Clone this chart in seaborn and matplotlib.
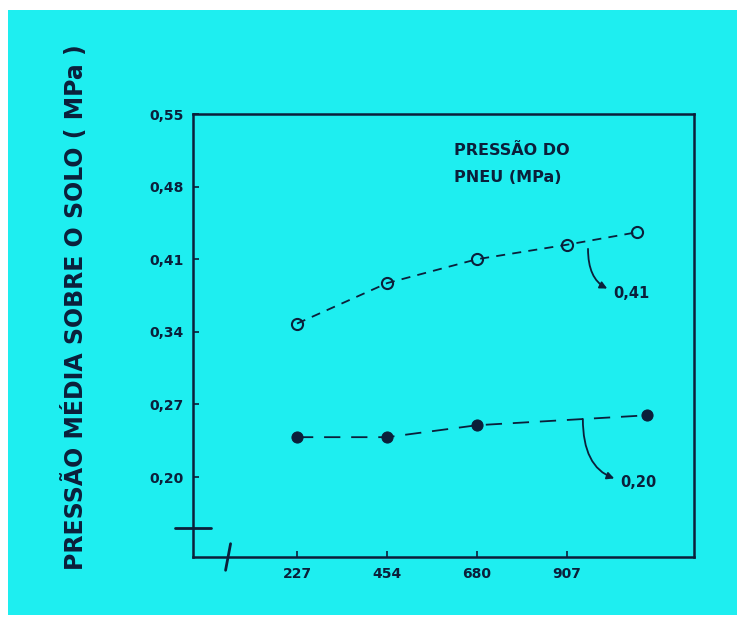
import matplotlib
matplotlib.use('Agg')
import matplotlib.pyplot as plt
import matplotlib.patches as patches
import seaborn as sns
import pandas as pd

# data
carga_aberto = [227, 454, 680, 907, 1083]
pressao_041 = [0.348, 0.387, 0.410, 0.424, 0.436]
carga_cheio = [227, 454, 680, 1109]
pressao_020 = [0.2385, 0.2385, 0.250, 0.2596]
yticks = [0.20, 0.27, 0.34, 0.41, 0.48, 0.55]
ytick_labels = ['0,20', '0,27', '0,34', '0,41', '0,48', '0,55']
xticks = [227, 454, 680, 907]
xtick_labels = ['227', '454', '680', '907']

# colours
ciano = '#1eeef0'
tinta = '#0b1f3a'

sns.set_style('ticks')
plt.rcParams['font.family'] = ['DejaVu Sans']

fig = plt.figure(figsize=(7.46, 6.27), dpi=100, facecolor='white')
# cyan page inside a thin white border
fig.patches.append(patches.Rectangle((8/746, 1-615/627), 729/746, 605/627,
                                     transform=fig.transFigure, facecolor=ciano,
                                     edgecolor='none', zorder=-1))

ax = fig.add_axes([193/746, 1-557/627, 501/746, 443/627])
ax.set_facecolor(ciano)

df1 = pd.DataFrame({'carga': carga_aberto, 'pressao': pressao_041})
df2 = pd.DataFrame({'carga': carga_cheio, 'pressao': pressao_020})

sns.lineplot(data=df1, x='carga', y='pressao', ax=ax, color=tinta, linewidth=1.3,
             linestyle=(0, (5, 4)), marker='o', markersize=8,
             markerfacecolor='none', markeredgecolor=tinta, markeredgewidth=1.5)
sns.lineplot(data=df2, x='carga', y='pressao', ax=ax, color=tinta, linewidth=1.3,
             linestyle=(0, (9, 6)), marker='o', markersize=8,
             markerfacecolor=tinta, markeredgecolor=tinta)

ax.set_xlim(-35, 1227)
ax.set_ylim(0.123, 0.55)
ax.set_yticks(yticks)
ax.set_yticklabels(ytick_labels, fontsize=10, fontweight='bold', color=tinta)
ax.set_xticks(xticks)
ax.set_xticklabels(xtick_labels, fontsize=10, fontweight='bold', color=tinta)
ax.tick_params(direction='in', length=4, width=1.2, color=tinta, pad=7)
ax.set_xlabel('')
ax.set_ylabel('')
for s in ax.spines.values():
    s.set_color(tinta)
    s.set_linewidth(1.8)

# axis break marks
ax.plot([-0.035, 0.035], [0.065, 0.065], transform=ax.transAxes, color=tinta,
        lw=2, clip_on=False)
ax.plot([0.065, 0.075], [-0.03, 0.03], transform=ax.transAxes, color=tinta,
        lw=2, clip_on=False)

# legend title and curve labels
ax.text(0.52, 0.935, 'PRESSÃO DO\nPNEU (MPa)', transform=ax.transAxes,
        fontsize=11.5, fontweight='bold', color=tinta, va='top', ha='left',
        linespacing=2.0)
ax.annotate('0,41', xy=(960, 0.420), xytext=(1023, 0.377), fontsize=10.5,
            fontweight='bold', color=tinta, va='center',
            arrowprops=dict(arrowstyle='<|-', color=tinta, lw=1.3,
                            connectionstyle='angle3,angleA=0,angleB=-90',
                            shrinkA=2, shrinkB=0))
ax.annotate('0,20', xy=(947, 0.256), xytext=(1041, 0.195), fontsize=10.5,
            fontweight='bold', color=tinta, va='center',
            arrowprops=dict(arrowstyle='<|-', color=tinta, lw=1.3,
                            connectionstyle='angle3,angleA=0,angleB=-90',
                            shrinkA=2, shrinkB=0))

fig.text(75/746, 1-307/627, 'PRESSÃO MÉDIA SOBRE O SOLO ( MPa )', rotation=90,
         fontsize=17, fontweight='bold', color=tinta, ha='center', va='center')

fig.savefig('out.png', dpi=100, facecolor='white')
